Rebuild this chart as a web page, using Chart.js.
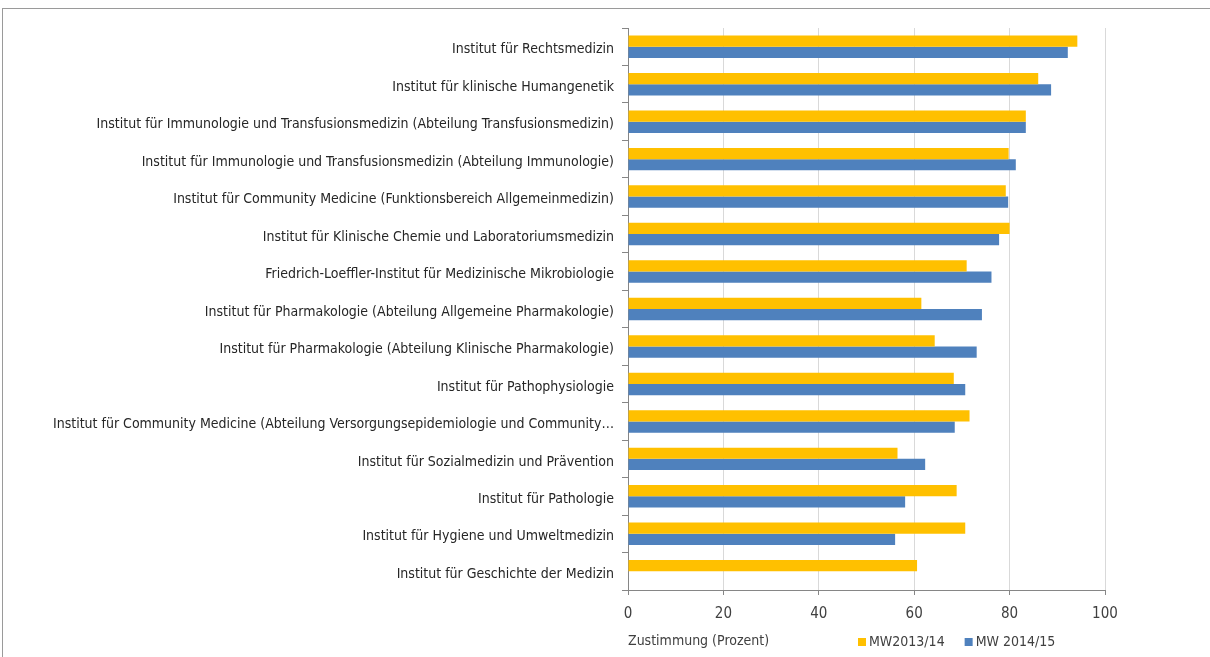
<!DOCTYPE html>
<html>
<head>
<meta charset="utf-8">
<script src="https://cdn.jsdelivr.net/npm/chart.js@4.4.1/dist/chart.umd.min.js"></script>
<style>
  body { margin: 0; background: #fff; }
  #frame { position: absolute; left: 2px; top: 8px; width: 1220px; height: 660px; border: 1px solid #9a9a9a; }
  canvas { position: absolute; left: 0; top: 0; }
</style>
</head>
<body>
<div id="frame"></div>
<canvas id="instChart" width="1210" height="657"></canvas>
<script>
var institutes = [
  "Institut für Rechtsmedizin",
  "Institut für klinische Humangenetik",
  "Institut für Immunologie und Transfusionsmedizin (Abteilung Transfusionsmedizin)",
  "Institut für Immunologie und Transfusionsmedizin (Abteilung Immunologie)",
  "Institut für Community Medicine (Funktionsbereich Allgemeinmedizin)",
  "Institut für Klinische Chemie und Laboratoriumsmedizin",
  "Friedrich-Loeffler-Institut für Medizinische Mikrobiologie",
  "Institut für Pharmakologie (Abteilung Allgemeine Pharmakologie)",
  "Institut für Pharmakologie (Abteilung Klinische Pharmakologie)",
  "Institut für Pathophysiologie",
  "Institut für Community Medicine (Abteilung Versorgungsepidemiologie und Community…",
  "Institut für Sozialmedizin und Prävention",
  "Institut für Pathologie",
  "Institut für Hygiene und Umweltmedizin",
  "Institut für Geschichte der Medizin"
];
var mw1314 = [94.2, 86.0, 83.4, 79.8, 79.2, 80.0, 71.0, 61.5, 64.3, 68.3, 71.6, 56.5, 68.9, 70.7, 60.6];
var mw1415 = [92.2, 88.7, 83.4, 81.3, 79.7, 77.8, 76.2, 74.2, 73.1, 70.7, 68.5, 62.3, 58.1, 56.0, null];
var seriesNames = ["MW2013/14", "MW 2014/15"];
var barColors = ["#FFC000", "#4F81BD"];
var axisTitle = "Zustimmung (Prozent)";

var labelFont = "'Liberation Sans Narrow', 'Arial Narrow', 'DejaVu Sans Condensed', sans-serif";

// small legend drawn next to the axis title, like the original
var sideLegend = {
  id: "sideLegend",
  afterDraw: function(chart) {
    var ctx = chart.ctx;
    var x = chart.chartArea.left + 230;
    var y = 642;
    ctx.save();
    ctx.font = "14px " + labelFont;
    ctx.textBaseline = "middle";
    chart.data.datasets.forEach(function(ds) {
      ctx.fillStyle = ds.backgroundColor;
      ctx.fillRect(x, y - 4, 8, 8);
      ctx.fillStyle = "#404040";
      ctx.fillText(ds.label, x + 11, y);
      x += ctx.measureText(ds.label).width + 31;
    });
    ctx.restore();
  }
};

new Chart("instChart", {
  type: "bar",
  data: {
    labels: institutes,
    datasets: [
      { label: seriesNames[0], data: mw1314, backgroundColor: barColors[0] },
      { label: seriesNames[1], data: mw1415, backgroundColor: barColors[1] }
    ]
  },
  options: {
    indexAxis: "y",
    responsive: false,
    animation: false,
    layout: { padding: { top: 28, right: 105, left: 0, bottom: 0 } },
    datasets: { bar: { categoryPercentage: 0.6, barPercentage: 1.0 } },
    plugins: {
      legend: { display: false },
      tooltip: { enabled: false }
    },
    scales: {
      x: {
        min: 0,
        max: 100,
        ticks: { stepSize: 20, color: "#404040", font: { family: labelFont, size: 15 }, padding: 10 },
        grid: { color: "#d9d9d9", tickColor: "#868686", tickLength: 5 },
        border: { color: "#868686" },
        title: {
          display: true,
          text: axisTitle,
          align: "start",
          color: "#404040",
          font: { family: labelFont, size: 14 },
          padding: { top: 4, bottom: 7 }
        },
        afterFit: function(scale) { scale.height = 67; }
      },
      y: {
        ticks: { color: "#262626", font: { family: labelFont, size: 14 }, padding: 8, autoSkip: false, labelOffset: 3 },
        grid: { drawOnChartArea: false, color: "#868686", tickLength: 6 },
        border: { color: "#868686" },
        afterFit: function(scale) { scale.width = 628; }
      }
    }
  },
  plugins: [sideLegend]
});
</script>
</body>
</html>
